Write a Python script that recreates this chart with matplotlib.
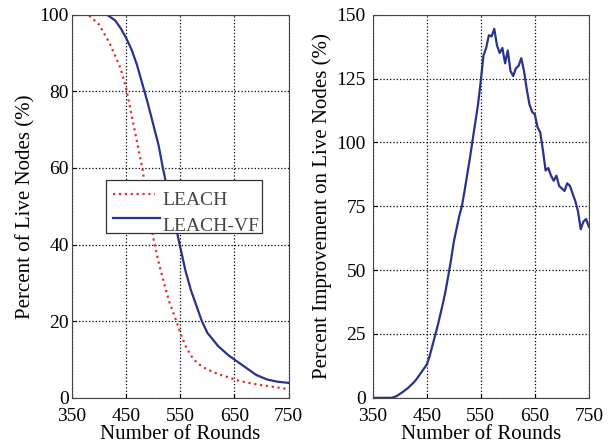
import matplotlib
matplotlib.use("Agg")
import matplotlib.pyplot as plt
from matplotlib.patches import Rectangle

plt.rcParams['font.family'] = ['Liberation Serif', 'DejaVu Serif']

# left panel: percent of live nodes
rounds_leach = [350, 380, 400, 420, 440, 450, 460, 470, 480, 490, 500, 510, 520,
                530, 543, 550, 560, 570, 580, 590, 600, 620, 640, 650, 660, 680,
                700, 720, 740, 750]
leach = [100, 100, 97.5, 92.5, 86, 81, 74, 67, 60, 51, 42, 35.5, 30,
         25, 20, 17, 13.5, 11, 9.3, 8.2, 7.4, 6.2, 5.3, 4.8, 4.4, 3.8,
         3.3, 2.9, 2.5, 2.2]

rounds_vf = [350, 400, 415, 430, 440, 450, 460, 470, 484, 490, 500, 510, 518,
             530, 540, 549, 560, 570, 580, 590, 600, 620, 640, 650, 670, 690,
             710, 730, 750]
leach_vf = [100, 100, 100, 98.5, 96.5, 94, 91, 87, 80, 77, 71.5, 66, 60,
            52, 46, 40, 33, 28, 24, 20, 17, 13.5, 11, 10, 8, 6,
            4.8, 4.2, 3.9]

# right panel: improvement
rounds_imp = list(range(350, 755, 5))
improvement = [0, 0, 0, 0, 0, 0, 0, 0, 0.3, 0.8,
               1.5, 2.2, 3, 3.8, 4.8, 5.8, 7, 8.5, 10, 11.5,
               13, 16, 20, 24, 28, 32.5, 37, 42, 48, 54,
               61, 66, 71, 75, 81, 87.5, 94, 101, 108, 115,
               124, 134, 137, 142, 141.5, 144.5, 138, 135, 137, 131,
               136, 128, 126, 129, 130, 133, 128, 121, 115, 112,
               111, 106, 104, 97, 89, 90, 87, 85, 87, 83,
               82, 81, 84, 83, 80, 77, 73, 66, 69, 70,
               67]

xticks = [350, 450, 550, 650, 750]
fs_tick = 14
fs_lab = 15

fig = plt.figure(figsize=(6.14, 4.47), dpi=100)
ax1 = fig.add_axes([0.117, 0.110, 0.353, 0.857])
ax2 = fig.add_axes([0.607, 0.110, 0.352, 0.857])

ax1.plot(rounds_leach, leach, color='#e0302a', ls=':', lw=1.6)
ax1.plot(rounds_vf, leach_vf, color='#28348c', lw=1.6)
ax1.set_xlim(350, 750)
ax1.set_ylim(0, 100)
ax1.set_yticks([0, 20, 40, 60, 80, 100])
ax1.set_ylabel('Percent of Live Nodes (%)', fontsize=fs_lab, labelpad=3)

ax2.plot(rounds_imp, improvement, color='#28348c', lw=1.6)
ax2.set_xlim(350, 750)
ax2.set_ylim(0, 150)
ax2.set_yticks([0, 25, 50, 75, 100, 125, 150])
ax2.set_ylabel('Percent Improvement on Live Nodes (%)', fontsize=fs_lab, labelpad=3)

for ax in (ax1, ax2):
    ax.set_xticks(xticks)
    ax.set_xlabel('Number of Rounds', fontsize=fs_lab, labelpad=0.5)
    ax.grid(True, color='black', ls=':', lw=0.9)
    ax.tick_params(direction='in', labelsize=fs_tick, length=3)
    ax.tick_params(axis='x', pad=7)
    for s in ax.spines.values():
        s.set_linewidth(0.8)
        s.set_color('#444444')
ax1.tick_params(axis='y', pad=2)
ax2.tick_params(axis='y', pad=5)

# hand-drawn legend box (text runs into the frame like the original)
box = Rectangle((0.157, 0.431), 0.719, 0.138, transform=ax1.transAxes,
                facecolor='white', edgecolor='#333333', lw=0.9, zorder=5)
ax1.add_patch(box)
ax1.plot([0.19, 0.385], [0.532, 0.532], transform=ax1.transAxes,
         color='#e0302a', ls=':', lw=1.6, zorder=6)
ax1.plot([0.19, 0.405], [0.47, 0.47], transform=ax1.transAxes,
         color='#28348c', lw=1.6, zorder=6)
t1 = ax1.text(0.419, 0.514, 'LEACH', transform=ax1.transAxes, fontsize=14,
              color='#444444', va='center', zorder=7)
t2 = ax1.text(0.419, 0.446, 'LEACH-VF', transform=ax1.transAxes, fontsize=14,
              color='#444444', va='center', zorder=7)
t2.set_clip_path(box)

fig.savefig('out.png', dpi=100)
